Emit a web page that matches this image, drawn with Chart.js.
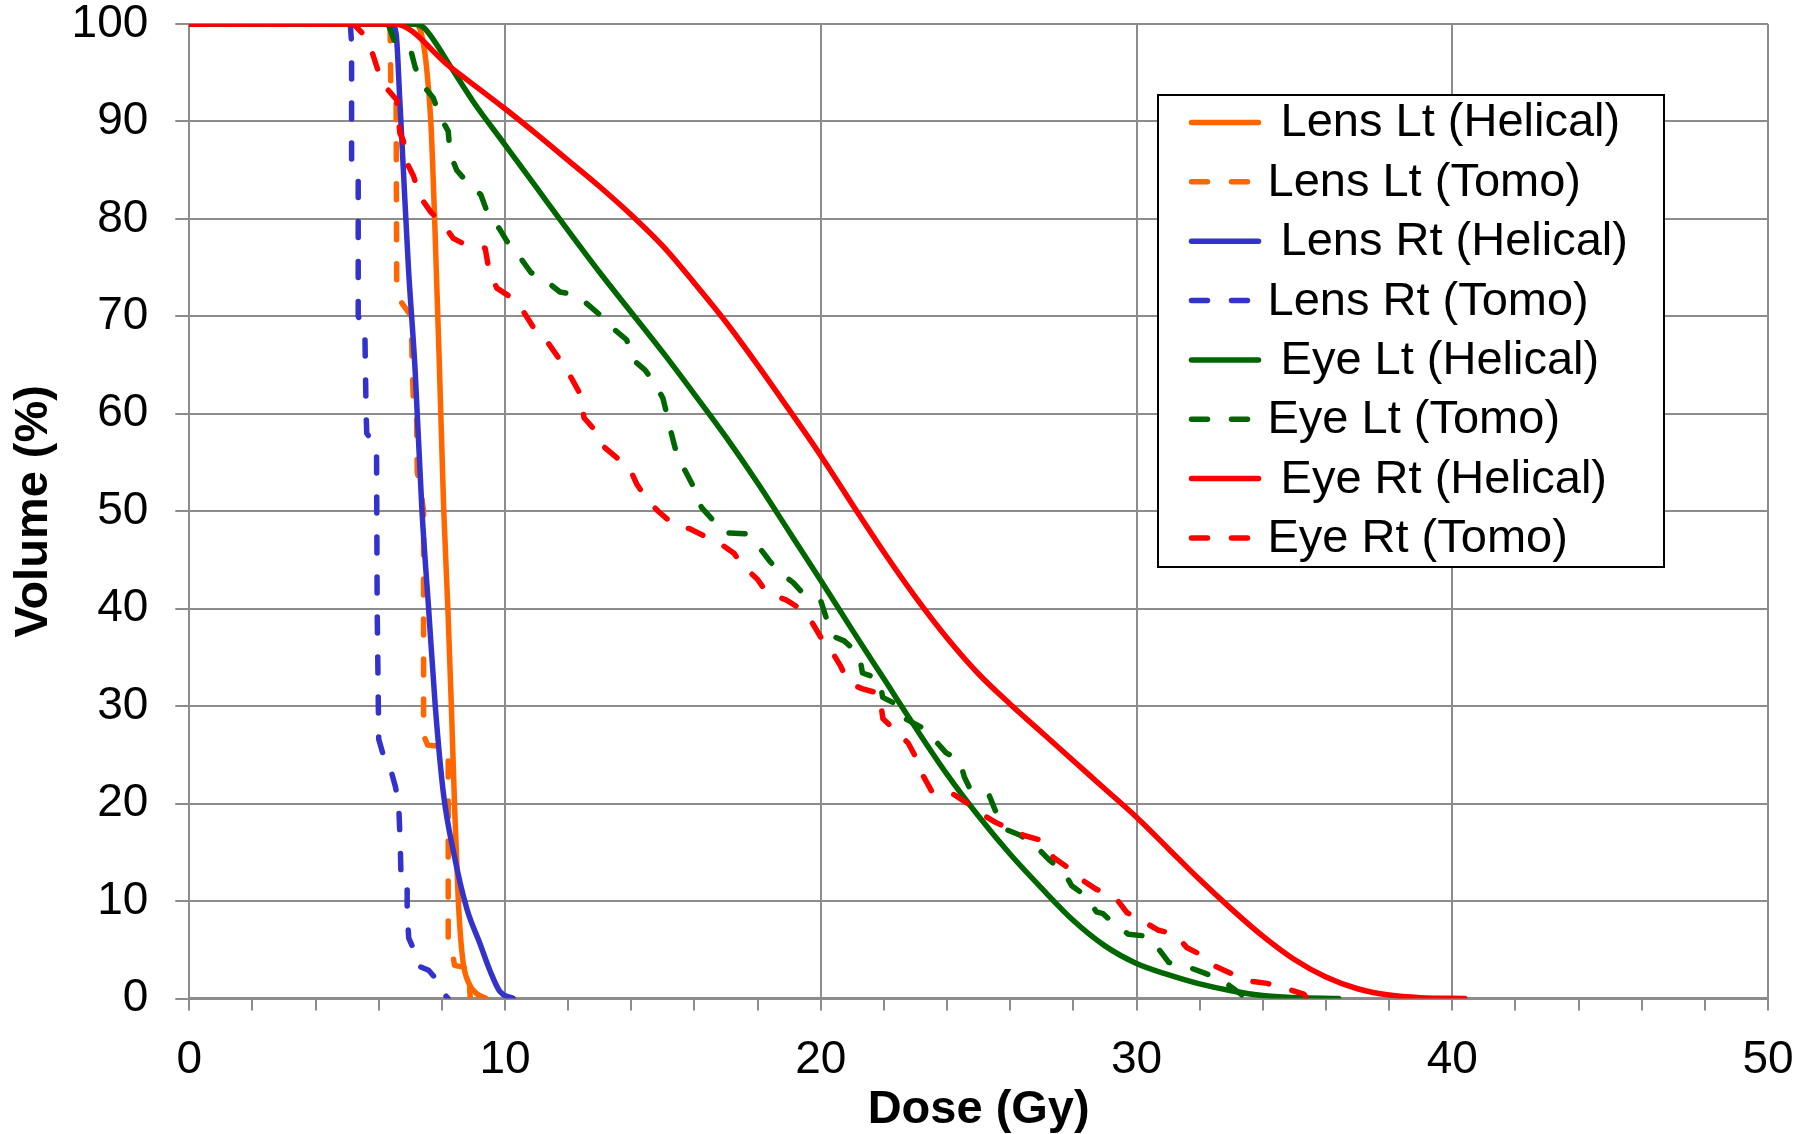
<!DOCTYPE html>
<html><head><meta charset="utf-8">
<script src="https://cdn.jsdelivr.net/npm/chart.js@4.4.1/dist/chart.umd.min.js"></script>
<style>html,body{margin:0;padding:0;background:#fff;}canvas{display:block;}</style>
</head><body>
<canvas id="c" width="1810" height="1134" style="width:1810px;height:1134px"></canvas>
<script>
// ---- data ----
const seriesLabels = [' Lens Lt (Helical)', 'Lens Lt (Tomo)', ' Lens Rt (Helical)', 'Lens Rt (Tomo)',
                      ' Eye Lt (Helical)', 'Eye Lt (Tomo)', ' Eye Rt (Helical)', 'Eye Rt (Tomo)'];
const xTitle = 'Dose (Gy)';
const yTitle = 'Volume (%)';
const xMajorTicks = [0, 10, 20, 30, 40, 50];
const yTicks = [0, 10, 20, 30, 40, 50, 60, 70, 80, 90, 100];

const lensLtHelicalDose = [0, 7.2, 7.35, 7.5, 7.65, 7.77, 7.92, 8.06, 8.19, 8.3, 8.4, 8.52, 8.66, 8.85, 9.1, 9.4];
const lensLtHelicalVol  = [100, 100, 99, 96, 90, 80, 65, 50, 40, 30, 20, 10, 4, 1.6, 0.5, 0];

const lensLtTomoDose = [0, 6.3, 6.36, 6.38, 6.55, 6.57, 6.7, 7.03, 7.06, 7.1, 7.2, 7.22, 7.32, 7.42, 7.42, 7.55, 8.15, 8.2, 8.2, 8.3, 8.4, 8.85, 8.88, 8.9];
const lensLtTomoVol  = [100, 100, 99.5, 94, 92.5, 73, 71.5, 70, 65, 61, 59.5, 54, 52.5, 50, 27, 26, 25.8, 25, 5.6, 5.3, 3.4, 3.1, 1, 0];

const lensRtHelicalDose = [0, 6.4, 6.55, 6.67, 6.78, 6.94, 7.15, 7.37, 7.58, 7.79, 8.05, 8.37, 8.79, 9.21, 9.53, 9.84, 10.26];
const lensRtHelicalVol  = [100, 100, 99, 92, 85, 75, 64.6, 50, 40, 30, 21, 15, 9.2, 5.6, 2.8, 0.7, 0];

const lensRtTomoDose = [0, 5.1, 5.14, 5.14, 5.35, 5.35, 5.56, 5.6, 5.62, 5.93, 5.95, 6.0, 6.16, 6.37, 6.53, 6.63, 6.68, 6.7, 6.9, 6.9, 6.95, 7.1, 7.28, 7.58, 7.74, 8.0, 8.2];
const lensRtTomoVol  = [100, 100, 98, 86, 84.5, 70, 68.5, 60, 58, 56.5, 40, 26.6, 24.8, 23.6, 21.7, 20, 16, 13.2, 12.8, 8.8, 6.2, 5.1, 3.3, 2.9, 2.3, 0.7, 0];

const eyeLtHelicalDose = [0, 7.0, 7.4, 7.75, 8.3, 9, 10, 11, 12, 13, 14, 15, 16, 17, 18, 19, 20, 21, 22, 23, 24, 25, 26, 27, 28, 29, 30, 31, 32, 33, 34, 35, 36.4];
const eyeLtHelicalVol  = [100, 100, 99.7, 98.3, 95.5, 92.0, 87.6, 83.2, 78.8, 74.5, 70.4, 66.3, 62.0, 57.6, 52.9, 47.9, 42.9, 37.8, 32.8, 27.8, 23.0, 18.7, 14.8, 11.3, 8.0, 5.4, 3.6, 2.45, 1.5, 0.8, 0.3, 0.1, 0];

const eyeLtTomoDose = [0, 6.3, 6.5, 7.0, 7.15, 7.36, 7.73, 7.94, 8.2, 8.26, 8.47, 8.87, 9.23, 9.47, 9.82, 10.1, 10.42, 10.82, 11.27, 11.74, 12.27, 12.7, 13.06, 13.48, 13.85, 14.07, 14.43, 14.75, 15.0, 15.15, 15.29, 15.45, 15.73, 16.0, 16.22, 16.58, 16.92, 17.62, 18.0, 18.38, 18.7, 19.12, 19.46, 20.0, 20.16, 20.37, 20.74, 21.22, 21.32, 21.86, 21.96, 22.52, 22.62, 23.21, 23.52, 23.97, 24.39, 24.55, 24.76, 25.34, 25.55, 25.82, 26.32, 26.85, 27.24, 27.68, 27.94, 28.4, 28.73, 28.94, 29.31, 29.74, 30.32, 30.72, 31.02, 31.66, 32.16, 32.7, 33.16, 33.5];
const eyeLtTomoVol  = [100, 100, 98.2, 97.5, 95.6, 93.9, 92.4, 90.5, 89, 86.7, 85, 83.5, 82.5, 80.4, 79, 77.5, 76.3, 74.5, 73.7, 72.5, 72.2, 71, 70, 68.6, 67.6, 65.5, 64.5, 63.1, 61.6, 59.6, 57.7, 55.7, 54.0, 52.3, 50.4, 49.1, 47.8, 47.7, 46.5, 44.9, 43.7, 42.7, 41.5, 40.8, 39.2, 37.2, 36.7, 35.3, 33.4, 32.8, 30.9, 30.0, 28.8, 27.8, 26.85, 25.2, 24.5, 22.7, 21.3, 20.8, 19.1, 17.4, 16.75, 15.5, 14.2, 13.1, 11.6, 10.5, 8.9, 8.7, 7.6, 6.6, 6.4, 5.0, 3.7, 3.2, 2.6, 1.9, 0.8, 0];

const eyeRtHelicalDose = [0, 6.5, 8.26, 10, 11, 12, 13, 14, 15, 16, 17, 18, 19, 20, 21, 22, 23, 24, 25, 26, 27, 28, 29, 30, 31, 32, 33, 34, 35, 36, 37, 38, 39, 40.4];
const eyeRtHelicalVol  = [100, 100, 95.6, 91.3, 88.7, 86.0, 83.3, 80.4, 77.2, 73.4, 69.4, 65.0, 60.4, 55.7, 50.7, 45.8, 41.2, 37.0, 33.3, 30.2, 27.3, 24.4, 21.5, 18.6, 15.4, 12.2, 9.2, 6.4, 4.0, 2.2, 1.0, 0.35, 0.08, 0];

const eyeRtTomoDose = [0, 5.2, 5.5, 5.8, 6.0, 6.25, 6.57, 6.67, 6.78, 6.9, 7.1, 7.3, 7.65, 8.05, 8.36, 8.84, 9.37, 9.5, 9.74, 10.26, 10.58, 10.95, 11.27, 11.64, 11.9, 12.2, 12.4, 12.5, 12.85, 13.1, 13.5, 13.96, 14.17, 14.5, 14.85, 15.35, 15.85, 16.35, 16.8, 17.25, 17.5, 18.0, 18.3, 18.9, 19.3, 19.74, 20.05, 20.37, 20.63, 20.88, 21.3, 21.85, 21.97, 22.4, 22.77, 23.05, 23.25, 23.54, 24.18, 24.7, 25.02, 25.52, 25.98, 26.47, 27.02, 27.36, 27.84, 28.26, 28.73, 28.9, 29.37, 29.7, 30.16, 30.7, 31.22, 31.6, 32.1, 32.5, 32.98, 33.54, 34.14, 34.75, 35.3, 35.4];
const eyeRtTomoVol  = [100, 100, 99, 97, 95, 93.4, 92.2, 88.8, 88, 85.7, 84.4, 82.3, 80.7, 79.4, 78.0, 77.2, 77.0, 74.6, 72.9, 71.8, 70.5, 68.6, 67.7, 66, 64.8, 63.1, 61.9, 59.6, 58.3, 56.7, 55.6, 54.3, 52.8, 51.2, 50.0, 48.6, 48.2, 47.4, 46.7, 45.7, 44.5, 43.0, 41.6, 40.9, 40.1, 38.5, 36.8, 35.5, 34.1, 32.4, 31.8, 31.3, 28.7, 27.4, 26.2, 24.5, 22.8, 21.1, 21.0, 19.9, 19.1, 18.1, 17.4, 16.7, 16.2, 14.5, 13.4, 12.2, 11.2, 11.0, 10.2, 8.8, 8.0, 7.0, 6.6, 5.2, 4.4, 3.3, 2.6, 1.8, 1.55, 1.0, 0.45, 0];

const seriesDose = [lensLtHelicalDose, lensLtTomoDose, lensRtHelicalDose, lensRtTomoDose, eyeLtHelicalDose, eyeLtTomoDose, eyeRtHelicalDose, eyeRtTomoDose];
const seriesVol  = [lensLtHelicalVol, lensLtTomoVol, lensRtHelicalVol, lensRtTomoVol, eyeLtHelicalVol, eyeLtTomoVol, eyeRtHelicalVol, eyeRtTomoVol];
const seriesColors = ['#FF6600', '#FF6600', '#3333CC', '#3333CC', '#006600', '#006600', '#FF0000', '#FF0000'];
const seriesDashed = [false, true, false, true, false, true, false, true];

// ---- styling ----
const FONT = '"Liberation Sans", Arial, Helvetica, sans-serif';
const GRID = '#8c8c8c';
const DASH = [16, 24];
const LINE_W = 5.5;

const datasets = seriesLabels.map((lab, i) => ({
  label: lab,
  data: seriesDose[i].map((d, j) => ({ x: d, y: seriesVol[i][j] })),
  borderColor: seriesColors[i],
  backgroundColor: seriesColors[i],
  borderWidth: LINE_W,
  borderDash: seriesDashed[i] ? DASH : [],
  borderCapStyle: 'round',
  borderJoinStyle: 'round',
  pointRadius: 0,
  pointHoverRadius: 0,
  fill: false,
  tension: 0,
  cubicInterpolationMode: seriesDashed[i] ? 'default' : 'monotone',
  order: seriesLabels.length - i
}));

const boxLegend = {
  id: 'boxLegend',
  afterDraw(chart) {
    const ctx = chart.ctx;
    const L = 1158, T = 95, R = 1664, B = 567;
    ctx.save();
    ctx.fillStyle = '#ffffff';
    ctx.fillRect(L, T, R - L, B - T);
    ctx.strokeStyle = '#000000';
    ctx.lineWidth = 2;
    ctx.strokeRect(L, T, R - L, B - T);
    chart.data.datasets.forEach((ds, i) => {
      const y = 122.5 + i * 59.35;
      ctx.strokeStyle = ds.borderColor;
      ctx.lineWidth = ds.borderWidth;
      ctx.lineCap = 'round';
      ctx.setLineDash(ds.borderDash || []);
      ctx.beginPath();
      ctx.moveTo(1191.5, y);
      ctx.lineTo(1258.5, y);
      ctx.stroke();
      ctx.setLineDash([]);
      ctx.fillStyle = '#000000';
      ctx.font = '47px ' + FONT;
      ctx.textBaseline = 'middle';
      ctx.textAlign = 'left';
      ctx.fillText(ds.label, 1267.5, y + 1);
    });
    ctx.restore();
  }
};

new Chart(document.getElementById('c'), {
  type: 'line',
  data: { datasets },
  options: {
    responsive: false,
    animation: false,
    devicePixelRatio: 1,
    layout: { padding: { left: 0, top: 24, right: 42, bottom: 0 } },
    plugins: { legend: { display: false }, tooltip: { enabled: false }, title: { display: false } },
    scales: {
      x: {
        type: 'linear', min: 0, max: 50,
        ticks: {
          stepSize: 2, autoSkip: false, maxTicksLimit: 40, maxRotation: 0, minRotation: 0,
          font: { family: FONT, size: 46 }, color: '#000', padding: 22,
          callback: v => xMajorTicks.includes(v) ? String(v) : ''
        },
        grid: {
          color: c => (c.tick && xMajorTicks.includes(c.tick.value)) ? GRID : 'rgba(0,0,0,0)',
          tickColor: GRID, lineWidth: 2, tickLength: 12
        },
        border: { color: GRID, width: 3 },
        title: { display: true, text: xTitle, color: '#000', font: { family: FONT, size: 47, weight: 'bold', lineHeight: 1.0 }, padding: { top: 0, bottom: 0 } },
        afterFit: s => { s.height = 135.5; s.paddingLeft = 0; s.paddingRight = 0; }
      },
      y: {
        type: 'linear', min: 0, max: 100,
        afterBuildTicks: s => { s.ticks = yTicks.map(v => ({ value: v })); },
        ticks: { font: { family: FONT, size: 46 }, color: '#000', padding: 27 },
        grid: { color: GRID, tickColor: GRID, lineWidth: 2, tickLength: 14 },
        border: { color: GRID, width: 2 },
        title: { display: true, text: yTitle, color: '#000', font: { family: FONT, size: 47, weight: 'bold' }, padding: { top: 6, bottom: 0 } },
        afterFit: s => { s.width = 189.3; s.paddingTop = 0; s.paddingBottom = 0; }
      }
    }
  },
  plugins: [boxLegend]
});
</script>
</body></html>
